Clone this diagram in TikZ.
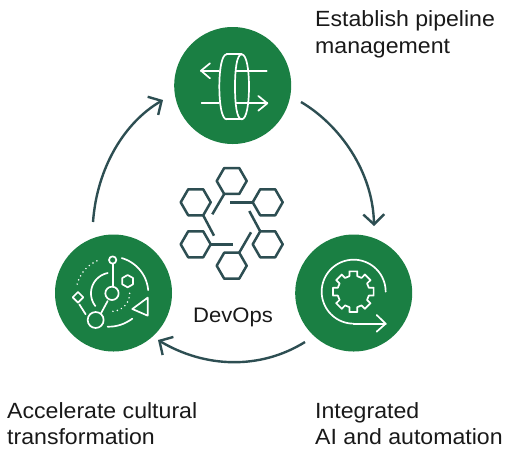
\documentclass[tikz,border=0pt]{standalone}
\usepackage{fontspec}
\setmainfont[FakeStretch=1.05]{Liberation Sans}
\usetikzlibrary{arrows.meta}
\definecolor{dgreen}{HTML}{1A7F43}
\definecolor{dteal}{HTML}{2D4E52}
\tikzset{
  x=1pt,y=-1pt,
  hub/.style={circle,fill=dgreen,draw=none,minimum size=117pt,inner sep=0pt},
  lab/.style={anchor=north west,align=left,inner sep=0pt,font=\fontsize{22}{26.8}\selectfont,text=black!90},
  cyc/.style={draw=dteal,line width=2.4pt,-{Straight Barb[length=10pt,width=21pt,line width=2.4pt]}},
  hexl/.style={draw=dteal,line width=2.5pt,line join=round},
  ico/.style={draw=white,line width=1.7pt,line join=round,line cap=round},
  dots/.style={draw=white,line width=1.7pt,line cap=round,dash pattern=on 0pt off 4.5pt},
  zoomA/.style={shift={(165pt,-20pt)},x=0.3333pt,y=-0.3333pt},
  zoomB/.style={shift={(45pt,-225pt)},x=0.3333pt,y=-0.3333pt},
  zoomC/.style={shift={(290pt,-225pt)},x=0.3333pt,y=-0.3333pt},
}
\newcommand{\hexa}[3]{% centre x, y, radius, flat top
  \draw[hexl] (#1+#3,#2) -- (#1+0.5*#3,#2+0.866*#3) -- (#1-0.5*#3,#2+0.866*#3) -- (#1-#3,#2) -- (#1-0.5*#3,#2-0.866*#3) -- (#1+0.5*#3,#2-0.866*#3) -- cycle;}
\newcommand{\rarc}[4]{% radii and angle from,to in image angles
  plot[domain=#3:#4,samples=30,smooth,variable=\t] ({200+#1*cos(\t)},{205+#2*sin(\t)})}
\begin{document}
\begin{tikzpicture}
\useasboundingbox (0,0) rectangle (505,451);
\node[hub] (top) at (232.7,85.5) {};
\node[hub] (left) at (113.5,293) {};
\node[hub] (right) at (353.7,293) {};

\coordinate (a1s) at (301,102);
\coordinate (a1e) at (374,226);
\coordinate (a2s) at (305,342);
\coordinate (a2e) at (158,340);
\coordinate (a3s) at (93,222);
\coordinate (a3e) at (163,100);
\draw[cyc] (a1s) .. controls (340,125) and (373,172) .. (a1e);
\draw[cyc] (a2s) .. controls (260,370) and (205,368) .. (a2e);
\draw[cyc] (a3s) .. controls (97,167) and (125,122) .. (a3e);

% top icon
\begin{scope}[zoomA]
\draw[ico] (108,152) -- (162,152);
\draw[ico] (213,152) -- (305,152);
\draw[ico] (135,130) -- (108,152) -- (135,175);
\draw[ico] (110,250) -- (162,250);
\draw[ico] (213,250) -- (307,250);
\draw[ico] (280,228) -- (307,250) -- (280,272);
\draw[ico] (185,103) -- (230,103);
\draw[ico] (185,298) -- (230,298);
\draw[ico] (185,103) .. controls (170,103) and (163,150) .. (163,200) .. controls (163,250) and (170,298) .. (185,298);
\draw[ico] (230,103) .. controls (215,103) and (210,150) .. (210,200) .. controls (210,250) and (215,298) .. (230,298);
\draw[ico] (230,103) .. controls (245,103) and (252,150) .. (252,200) .. controls (252,250) and (245,298) .. (230,298);
\end{scope}

% left icon
\begin{scope}[zoomB]
\draw[ico] \rarc{110}{110}{-74}{-5};
\draw[ico] (188,305) .. controls (215,306) and (240,297) .. (262,281);
\draw[dots] \rarc{107}{107}{-165}{-113};
\draw[ico] (103,238) -- (122,268);
\draw[ico] \rarc{62}{62}{142}{259};
\draw[dots] \rarc{54}{54}{0}{88};
\draw[ico] (203,105) circle[radius=11];
\draw[ico] (203,116) -- (203,185);
\draw[ico] (201,205) circle[radius=20];
\draw[ico] (152,285) circle[radius=24];
\draw[ico] (188,228) -- (168,265);
\draw[ico] (248,150) -- (264,159) -- (264,178) -- (248,187) -- (232,178) -- (232,159) -- cycle;
\draw[ico] (99,201) -- (115,217) -- (99,233) -- (83,217) -- cycle;
\draw[ico] (262,252) -- (308,218) -- (308,272) -- cycle;
\end{scope}

% right icon
\begin{scope}[zoomC]
\draw[ico] plot[domain=0:-270,samples=60,smooth,variable=\t] ({191+96*cos(\t)},{200+96*sin(\t)});
\draw[ico] (191,296) -- (287,296);
\draw[ico] (260,270) -- (287,296) -- (260,320);
\draw[ico] ({190+62*cos(-11)},{200+62*sin(-11)})
 \foreach \k in {0,45,...,315} {
  -- ({190+62*cos(\k+11)},{200+62*sin(\k+11)})
  -- ({190+48*cos(\k+14)},{200+48*sin(\k+14)})
  -- ({190+48*cos(\k+31)},{200+48*sin(\k+31)})
  -- ({190+62*cos(\k+34)},{200+62*sin(\k+34)})
 } -- cycle;
\end{scope}

% central molecule
\hexa{231.7}{181}{15}
\hexa{195.7}{202.3}{15}
\hexa{267.7}{202.3}{15}
\hexa{195.7}{244.3}{15}
\hexa{267.7}{244.3}{15}
\hexa{231.7}{265.7}{15}
\draw[hexl] (224.2,194) -- (212.3,214.3);
\draw[hexl] (252.7,202.3) -- (230,202.3);
\draw[hexl] (260.2,231.3) -- (249.3,211);
\draw[hexl] (239.2,252.7) -- (251,232.3);
\draw[hexl] (210.7,244.3) -- (233.3,244.3);
\draw[hexl] (203.2,215.3) -- (214,235.7);

\node[lab] (t1) at (315,10.7) {Establish pipeline\\management};
\node[lab] (t2) at (315,402) {Integrated\\AI and automation};
\node[lab] (t3) at (7,402) {Accelerate cultural\\transformation};
\node[font=\fontsize{21}{24}\selectfont,inner sep=0pt,text=black!90] (t4) at (233,317) {DevOps};
\end{tikzpicture}
\end{document}
